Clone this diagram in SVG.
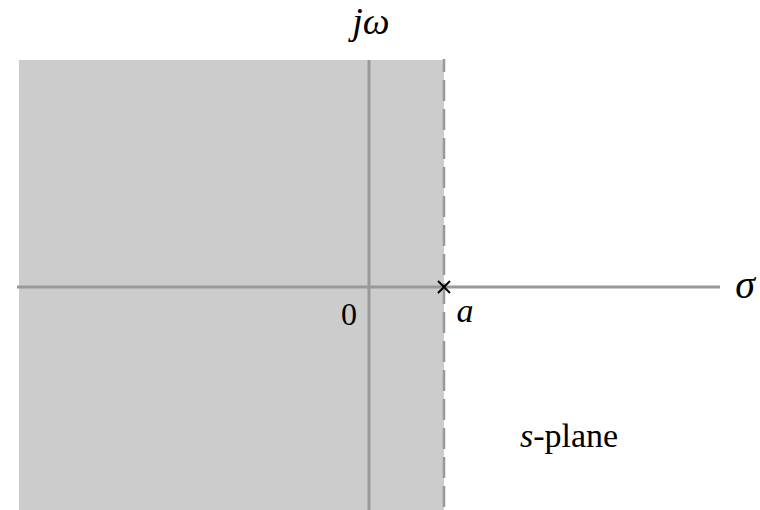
<svg xmlns="http://www.w3.org/2000/svg" width="760" height="510" viewBox="0 0 760 510">
<style>
.axis{stroke:#999;stroke-width:3;fill:none}
text{font-family:"Liberation Serif","DejaVu Serif",serif;fill:#000}
.it{font-style:italic}
</style>
<rect width="760" height="510" fill="#fff"/>
<g id="region">
<rect x="19" y="60" width="425" height="450" fill="#cccccc"/>
<line x1="444" y1="59" x2="444" y2="510" stroke="#999" stroke-width="2.5" stroke-dasharray="21 8" stroke-dashoffset="8"/>
</g>
<g id="axes">
<line class="axis" x1="17" y1="287" x2="720" y2="287"/>
<line class="axis" x1="369" y1="60" x2="369" y2="510"/>
</g>
<g id="pole">
<path d="M438 281 L450 293 M450 281 L438 293" stroke="#000" stroke-width="2"/>
</g>
<g id="labels" font-family="Liberation Serif, DejaVu Serif, serif">
<text class="it" x="371" y="34" font-size="38" text-anchor="middle">jω</text>
<text class="it" x="745" y="298" font-size="40" text-anchor="middle">σ</text>
<text x="349" y="325" font-size="32" text-anchor="middle">0</text>
<text class="it" x="465" y="322" font-size="34" text-anchor="middle">a</text>
<text x="520" y="447" font-size="34"><tspan class="it">s</tspan>-plane</text>
</g>
</svg>
